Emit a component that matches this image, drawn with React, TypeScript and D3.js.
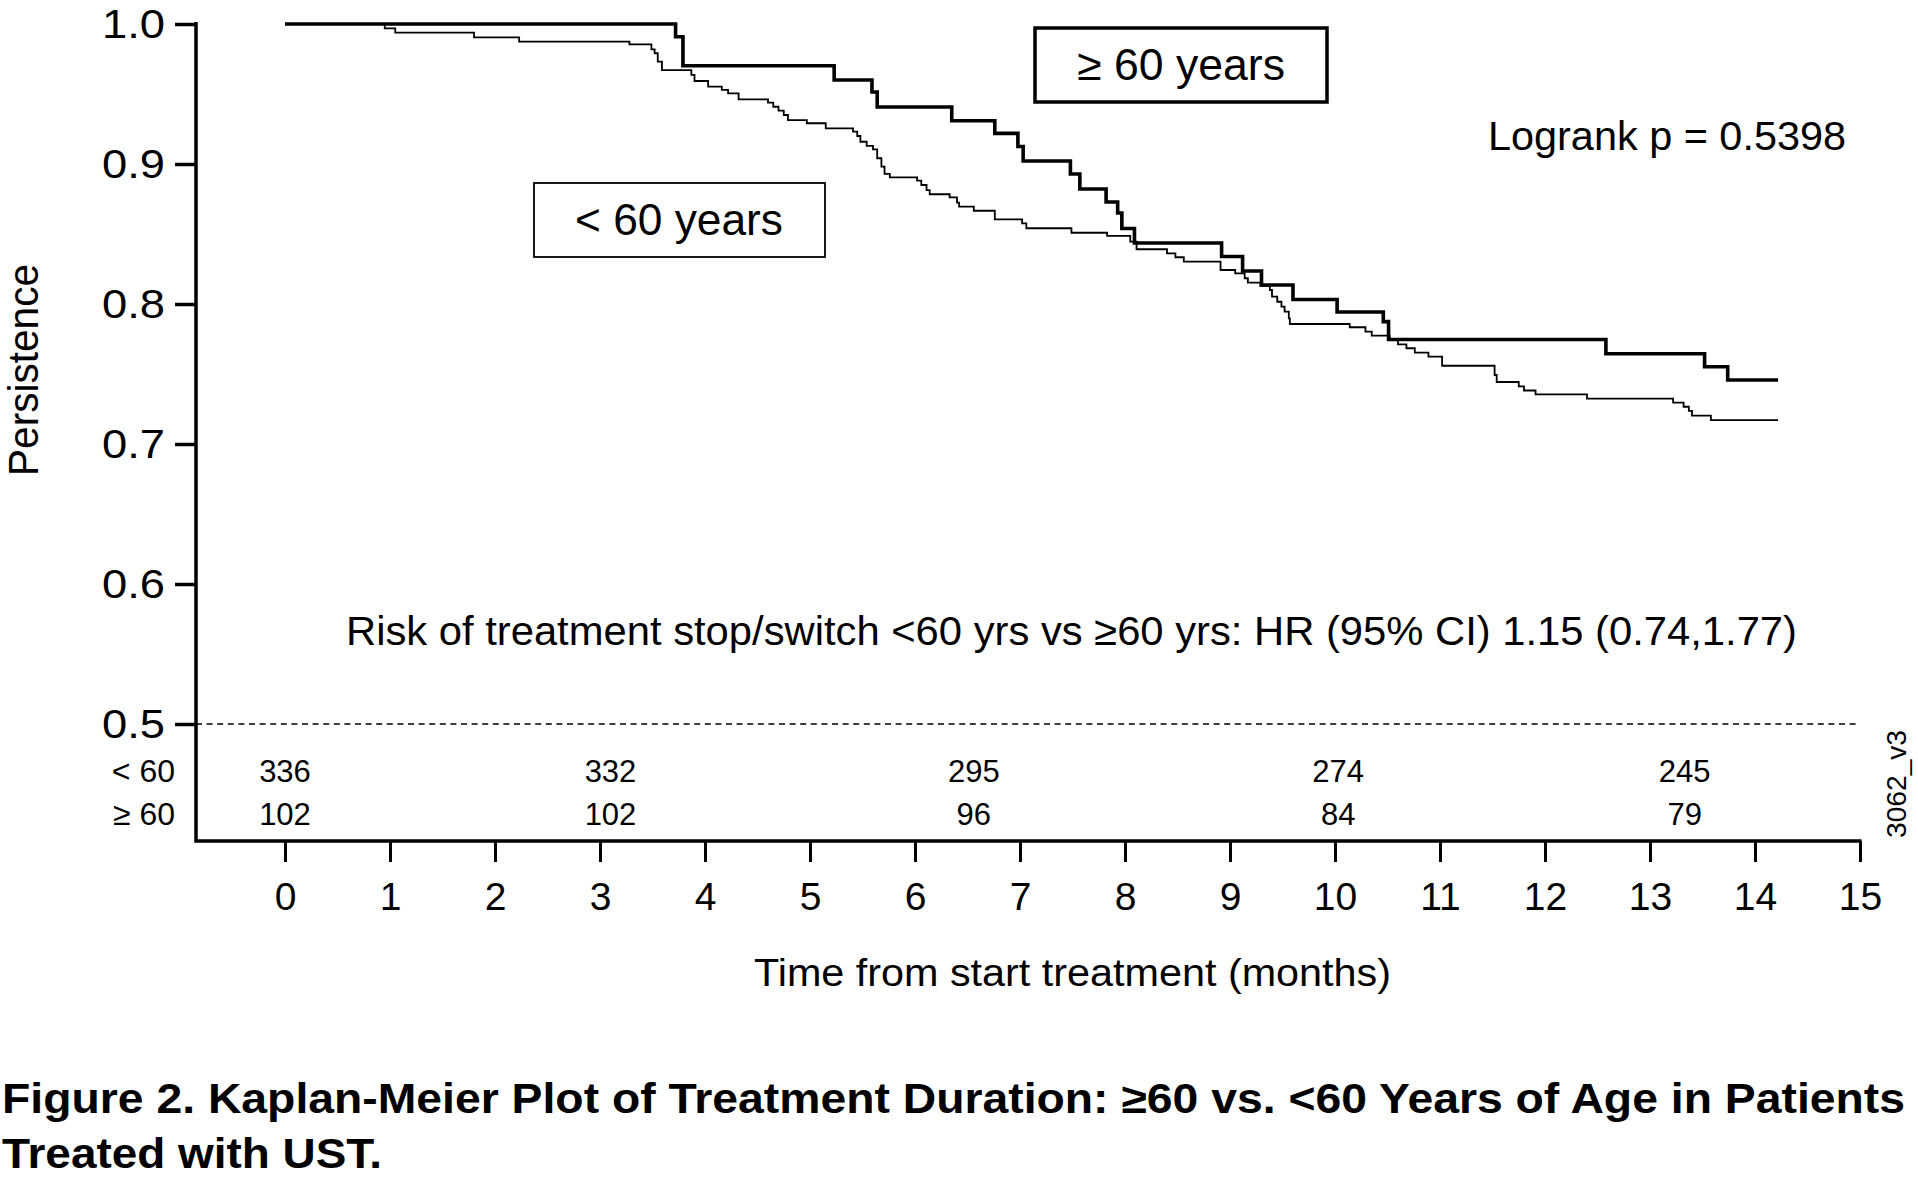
import { useRef, useEffect } from 'react'
import * as d3 from 'd3'

const W = 1918
const H = 1197
const FONT = "'Liberation Sans Narrow', 'Liberation Sans', Arial, sans-serif"

// Kaplan-Meier steps (months, persistence)
const ge60Times = [0, 3.72, 3.79, 5.23, 5.59, 5.64, 6.35, 6.76, 6.98, 7.03, 7.48, 7.57, 7.82, 7.93, 7.97, 8.09, 8.92, 9.12, 9.3, 9.6, 10.02, 10.46, 10.51, 12.58, 13.52, 13.74]
const ge60Surv = [1.0, 0.9909, 0.9702, 0.96, 0.9514, 0.9407, 0.9309, 0.9219, 0.9125, 0.9021, 0.8929, 0.8821, 0.8729, 0.865, 0.8539, 0.8436, 0.8339, 0.8236, 0.8136, 0.8032, 0.7943, 0.7874, 0.7746, 0.7645, 0.7552, 0.7457]

const lt60Times = [0, 0.95, 1.05, 1.8, 2.23, 3.28, 3.49, 3.52, 3.55, 3.59, 3.87, 3.9, 4.03, 4.16, 4.22, 4.32, 4.6, 4.65, 4.7, 4.75, 4.79, 4.97, 5.15, 5.41, 5.45, 5.48, 5.54, 5.6, 5.64, 5.68, 5.71, 5.76, 6.02, 6.06, 6.11, 6.14, 6.33, 6.4, 6.42, 6.56, 6.76, 7.02, 7.06, 7.49, 7.83, 8.05, 8.11, 8.4, 8.48, 8.56, 8.91, 9.05, 9.14, 9.17, 9.29, 9.38, 9.4, 9.45, 9.49, 9.52, 9.56, 9.57, 10.14, 10.29, 10.35, 10.52, 10.6, 10.68, 10.76, 10.89, 11.02, 11.52, 11.54, 11.75, 11.8, 11.91, 12.4, 13.22, 13.32, 13.37, 13.4, 13.58]
const lt60Surv = [1.0, 0.9969, 0.9938, 0.9905, 0.9874, 0.9855, 0.9819, 0.9791, 0.9731, 0.9671, 0.9636, 0.9593, 0.9552, 0.9529, 0.9505, 0.9462, 0.9438, 0.9409, 0.9381, 0.935, 0.9314, 0.9291, 0.9255, 0.9231, 0.92, 0.9159, 0.9129, 0.9105, 0.9041, 0.8981, 0.8929, 0.8905, 0.8881, 0.885, 0.8814, 0.8784, 0.8762, 0.8724, 0.8695, 0.8666, 0.8605, 0.8576, 0.8541, 0.8509, 0.8486, 0.8445, 0.8391, 0.8362, 0.8334, 0.8302, 0.8243, 0.8219, 0.8184, 0.8152, 0.8129, 0.81, 0.8052, 0.8016, 0.7981, 0.7945, 0.7898, 0.7857, 0.7834, 0.7802, 0.7774, 0.7743, 0.7712, 0.7684, 0.7652, 0.7624, 0.7559, 0.7493, 0.7443, 0.7412, 0.7382, 0.7355, 0.7324, 0.7295, 0.7266, 0.7236, 0.7202, 0.7171]

const followUpEnd = 14.22

// numbers at risk
const riskTimes = [0, 3.1, 6.56, 10.03, 13.33]
const riskLt60 = [336, 332, 295, 274, 245]
const riskGe60 = [102, 102, 96, 84, 79]

const xTicks = [0, 1, 2, 3, 4, 5, 6, 7, 8, 9, 10, 11, 12, 13, 14, 15]
const yTicks = [0.5, 0.6, 0.7, 0.8, 0.9, 1.0]

export default function App() {
  const svgRef = useRef<SVGSVGElement>(null)

  useEffect(() => {
    if (!svgRef.current) return
    const svg = d3.select(svgRef.current)
    svg.selectAll('*').remove()

    const x = d3.scaleLinear().domain([0, 15]).range([285, 1860])
    const y = d3.scaleLinear().domain([0.5, 1]).range([724, 24])
    const axisX = 196
    const axisY = 841

    svg.append('rect').attr('width', W).attr('height', H).attr('fill', '#fff')

    const text = (s: string, tx: number, ty: number, size: number, anchor = 'start', len?: number) => {
      const t = svg.append('text')
        .attr('x', tx)
        .attr('y', ty)
        .attr('font-size', size)
        .attr('font-family', FONT)
        .attr('text-anchor', anchor)
        .attr('fill', '#000')
        .text(s)
      if (len) t.attr('textLength', len).attr('lengthAdjust', 'spacingAndGlyphs')
      return t
    }

    // survival curves
    const line = d3.line<[number, number]>()
      .x(d => x(d[0]))
      .y(d => y(d[1]))
      .curve(d3.curveStepAfter)
    const pts = (t: number[], s: number[]) => {
      const p: [number, number][] = t.map((v, i) => [v, s[i]])
      p.push([followUpEnd, s[s.length - 1]])
      return p
    }
    svg.append('path')
      .attr('d', line(pts(lt60Times, lt60Surv)))
      .attr('fill', 'none')
      .attr('stroke', '#000')
      .attr('stroke-width', 1.8)
    svg.append('path')
      .attr('d', line(pts(ge60Times, ge60Surv)))
      .attr('fill', 'none')
      .attr('stroke', '#000')
      .attr('stroke-width', 3.6)

    // 0.5 reference
    svg.append('line')
      .attr('x1', axisX).attr('x2', x(15))
      .attr('y1', y(0.5)).attr('y2', y(0.5))
      .attr('stroke', '#000')
      .attr('stroke-width', 1.6)
      .attr('stroke-dasharray', '6,4.6')

    // Y-axis
    const gy = svg.append('g')
      .attr('transform', `translate(${axisX},0)`)
      .call(d3.axisLeft(y).tickValues(yTicks).tickSize(21).tickPadding(10).tickFormat(d3.format('.1f')))
    gy.select('.domain').remove()
    gy.selectAll('.tick line').attr('stroke', '#000').attr('stroke-width', 3.5)
    gy.selectAll('.tick text')
      .attr('fill', '#000')
      .attr('font-size', 41)
      .attr('font-family', FONT)
      .attr('textLength', 63)
      .attr('lengthAdjust', 'spacingAndGlyphs')

    // X-axis
    const gx = svg.append('g')
      .attr('transform', `translate(0,${axisY})`)
      .call(d3.axisBottom(x).tickValues(xTicks).tickSize(21).tickPadding(20).tickFormat(d3.format('d')))
    gx.select('.domain').remove()
    gx.selectAll('.tick line').attr('stroke', '#000').attr('stroke-width', 3)
    gx.selectAll('.tick text')
      .attr('fill', '#000')
      .attr('font-size', 39)
      .attr('font-family', FONT)

    // axis frame
    svg.append('path')
      .attr('d', `M${axisX},22V${axisY}H${x(15) + 1.5}`)
      .attr('fill', 'none')
      .attr('stroke', '#000')
      .attr('stroke-width', 3.5)

    // axis titles
    text('Time from start treatment (months)', x(7.5), 986, 38, 'middle', 637)
    text('Persistence', 0, 0, 43, 'middle', 212)
      .attr('x', null).attr('y', null)
      .attr('transform', 'translate(38,370) rotate(-90)')

    // numbers at risk
    text('< 60', 175, 782, 32, 'end')
    text('\u2265 60', 175, 825, 32, 'end')
    svg.selectAll('.risk-lt')
      .data(riskTimes)
      .join('text')
      .attr('class', 'risk-lt')
      .attr('x', d => x(d))
      .attr('y', 782)
      .attr('text-anchor', 'middle')
      .attr('font-size', 31)
      .attr('font-family', FONT)
      .text((_, i) => riskLt60[i])
    svg.selectAll('.risk-ge')
      .data(riskTimes)
      .join('text')
      .attr('class', 'risk-ge')
      .attr('x', d => x(d))
      .attr('y', 825)
      .attr('text-anchor', 'middle')
      .attr('font-size', 31)
      .attr('font-family', FONT)
      .text((_, i) => riskGe60[i])

    // legend boxes
    svg.append('rect')
      .attr('x', 1035).attr('y', 28).attr('width', 292).attr('height', 74)
      .attr('fill', '#fff').attr('stroke', '#000').attr('stroke-width', 3.5)
    text('\u2265 60 years', 1181, 80, 44, 'middle', 208)
    svg.append('rect')
      .attr('x', 534).attr('y', 183).attr('width', 291).attr('height', 74)
      .attr('fill', '#fff').attr('stroke', '#000').attr('stroke-width', 1.8)
    text('< 60 years', 679, 235, 44, 'middle', 208)

    // annotations
    text('Logrank p = 0.5398', 1488, 150, 40, 'start', 358)
    text('Risk of treatment stop/switch <60 yrs vs \u226560 yrs: HR (95% CI) 1.15 (0.74,1.77)', 346, 645, 41, 'start', 1451)
    text('3062_v3', 0, 0, 28, 'middle', 108)
      .attr('x', null).attr('y', null)
      .attr('transform', 'translate(1906,784) rotate(-90)')

    // caption
    text('Figure 2. Kaplan-Meier Plot of Treatment Duration: \u226560 vs. <60 Years of Age in Patients', 2, 1113, 42, 'start', 1903)
      .attr('font-weight', 'bold')
    text('Treated with UST.', 2, 1168, 42, 'start', 380)
      .attr('font-weight', 'bold')
  }, [])

  return (
    <div style={{ position: 'absolute', left: 0, top: 0 }}>
      <svg ref={svgRef} width={W} height={H} style={{ display: 'block' }} />
    </div>
  )
}
